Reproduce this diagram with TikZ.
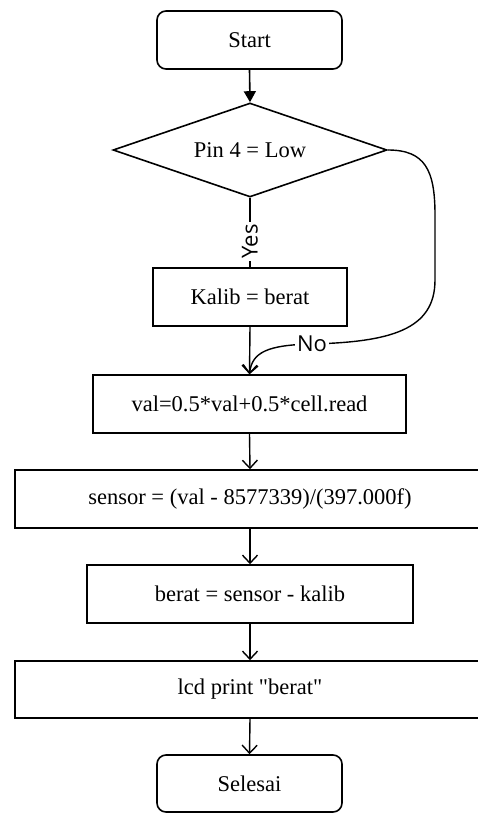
\documentclass[tikz,border=0pt]{standalone}
\usepackage{fontspec}
\setmainfont{Liberation Serif}[Ligatures=TeXOff]
\newfontfamily\lblfont{Open Sans}
\usetikzlibrary{shapes.geometric,arrows.meta}
\begin{document}
\begin{tikzpicture}[x=1pt,y=-1pt,
  every node/.style={font=\fontsize{22.5}{27}\selectfont},
  box/.style={draw, line width=1.6pt, rectangle, minimum height=58pt, inner sep=0pt},
  term/.style={box, rounded corners=9pt, minimum width=185pt},
  decision/.style={draw, line width=1.6pt, diamond, aspect=2.9, minimum width=274pt, minimum height=94pt, inner sep=0pt},
  flow/.style={line width=1.4pt, -{Straight Barb[length=8pt,width=15pt,line width=1.4pt]}},
  firstflow/.style={line width=1.6pt, -{Triangle[length=11pt,width=12pt]}},
  plain/.style={line width=1.4pt},
  lbl/.style={fill=white, inner sep=2pt, font=\lblfont\fontsize{22}{25}\selectfont}
]
\useasboundingbox (0,0) rectangle (478,813);
\clip (0,0) rectangle (478,813);
\fill[white] (0,0) rectangle (478,813);

\node[term] (start) at (249.5,40) {Start};
\node[decision] (dec) at (250,150) {Pin 4 = Low};
\node[box, minimum width=194pt] (kalib) at (250,297) {Kalib = berat};
\node[box, minimum width=313pt] (val) at (249.5,404) {val=0.5*val+0.5*cell.read};
\node[box, minimum width=470pt] (sensor) at (250,499) {sensor = (val - 8577339)/(397.000f)};
\node[box, minimum width=326pt] (berat) at (250,594) {berat = sensor - kalib};
\node[box, minimum width=470pt, minimum height=57pt] (lcd) at (250,689.5) {lcd print "berat"};
\node[term, minimum height=57pt] (selesai) at (249.5,783.5) {Selesai};

\draw[firstflow] (start.south) -- (dec.north);
\draw[plain] (dec.south) -- node[lbl, rotate=90, pos=0.63] (yes) {Yes} (kalib.north);
\draw[flow] (kalib.south) -- (val.north);
\draw[flow] (dec.east) .. controls (425,150) and (435,170) .. (435,215)
  -- (435,280) .. controls (435,330) and (390,342) .. (312,344)
  node[lbl] (no) {No}
  .. controls (268,345) and (252,352) .. (val.north);
\draw[flow] (val.south) -- (sensor.north);
\draw[flow] (sensor.south) -- (berat.north);
\draw[flow] (berat.south) -- (lcd.north);
\draw[flow] (lcd.south) -- (selesai.north);
\end{tikzpicture}
\end{document}
